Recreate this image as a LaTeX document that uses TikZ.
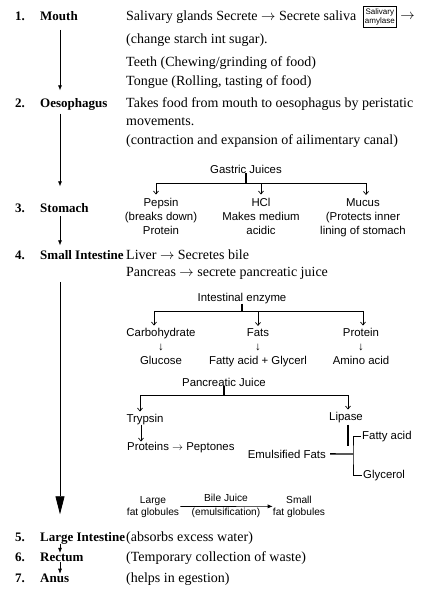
\documentclass[tikz,border=0pt]{standalone}
\usepackage{fontspec}
\setmainfont{Liberation Serif}
\setsansfont{Liberation Sans}
\usetikzlibrary{arrows.meta,positioning}
\tikzset{
  num/.style={anchor=base west, inner sep=0pt, font=\fontsize{13}{15}\selectfont\bfseries},
  txt/.style={anchor=base west, inner sep=0pt, font=\fontsize{14}{17}\selectfont},
  sf/.style={anchor=base, inner sep=0pt, align=center, font=\sffamily\fontsize{11.4}{14}\selectfont},
  sfsmall/.style={anchor=base, inner sep=0pt, align=center, font=\sffamily\fontsize{10.2}{12}\selectfont},
  enzbox/.style={draw, line width=0.8pt, inner sep=2pt, align=center, font=\sffamily\fontsize{8}{9.5}\selectfont},
  flow/.style={line width=0.6pt, -{Latex[length=5pt,width=4pt]}},
  bigflow/.style={line width=0.8pt, -{Triangle[length=18pt,width=9pt]}},
  branch/.style={line width=0.7pt, -{Straight Barb[length=3pt,width=5pt]}},
  stem/.style={line width=1.4pt},
}
\begin{document}
\begin{tikzpicture}[x=1pt,y=-1pt]
  \useasboundingbox (0,0) rectangle (439,590);
  % left column
  \node[num] (n1) at (15,20.5) {1.};
  \node[num] (mouth) at (40,20.5) {Mouth};
  \node[num] (n2) at (15,107.5) {2.};
  \node[num] (oes) at (40,107.5) {Oesophagus};
  \node[num] (n3) at (15,212.5) {3.};
  \node[num] (stom) at (40,212.5) {Stomach};
  \node[num] (n4) at (15,259.5) {4.};
  \node[num] (si) at (40,259.5) {Small Intestine};
  \node[num] (n5) at (15,541.5) {5.};
  \node[num] (li) at (40,541.5) {Large Intestine};
  \node[num] (n6) at (15,561.5) {6.};
  \node[num] (rect) at (40,561.5) {Rectum};
  \node[num] (n7) at (15,582.5) {7.};
  \node[num] (anus) at (40,582.5) {Anus};
  \coordinate (lane) at (60,0);
  \draw[flow, shorten <=9pt, shorten >=8pt] (lane |- mouth.south) -- (lane |- oes.north);
  \draw[flow, shorten <=3pt, shorten >=17pt] (lane |- oes.south) -- (lane |- stom.north);
  \draw[flow, shorten <=3pt, shorten >=5pt] (lane |- stom.south) -- (lane |- si.north);
  \draw[bigflow, shorten <=22pt, shorten >=18pt] (lane |- si.south) -- (lane |- li.north);
  \draw[flow, shorten <=-1pt] (lane |- li.south) -- (lane |- rect.north);
  \draw[flow] (lane |- rect.south) -- (lane |- anus.north);

  % mouth, oesophagus
  \node[txt] (sal) at (126,20.5) {Salivary glands Secrete $\rightarrow$ Secrete saliva};
  \node[enzbox, right=6pt of sal] (amy) {Salivary\\amylase};
  \node[txt, right=3pt of amy] (amyarr) {$\rightarrow$};
  \node[txt] (chg) at (126,43.5) {(change starch int sugar).};
  \node[txt] (teeth) at (126,66.5) {Teeth (Chewing/grinding of food)};
  \node[txt] (tongue) at (126,85.5) {Tongue (Rolling, tasting of food)};
  \node[txt] (takes) at (126,107.5) {Takes food from mouth to oesophagus by peristatic};
  \node[txt] (movs) at (126,125.5) {movements.};
  \node[txt] (contr) at (126,144.5) {(contraction and expansion of ailimentary canal)};

  % stomach
  \node[sf] (gj) at (246,173) {Gastric Juices};
  \node[sf] (pep) at (161,234) {Pepsin\\(breaks down)\\Protein};
  \node[sf] (hcl) at (261,234) {HCl\\Makes medium\\acidic};
  \node[sf] (muc) at (363,234) {Mucus\\(Protects inner\\lining of stomach};
  \draw[stem] (gj.south) -- (gj.south |- 0,183) coordinate (gjk);
  \draw[branch, shorten >=3pt] (gjk) -| ([xshift=-5pt]pep.north);
  \draw[branch, shorten >=3pt] (gjk) -| (hcl.north);
  \draw[branch, shorten >=3pt] (gjk) -| ([xshift=3pt]muc.north);

  % small intestine
  \node[txt] (liver) at (126,259.5) {Liver $\rightarrow$ Secretes bile};
  \node[txt] (panc) at (126,276.5) {Pancreas $\rightarrow$ secrete pancreatic juice};
  \node[sf] (ie) at (242,301) {Intestinal enzyme};
  \node[sf] (carb) at (161,364) {Carbohydrate\\↓\\Glucose};
  \node[sf] (fats) at (258,364) {Fats\\↓\\Fatty acid + Glycerl};
  \node[sf] (prot) at (361,364) {Protein\\↓\\Amino acid};
  \draw[stem] (ie.south) -- (ie.south |- 0,311) coordinate (iek);
  \draw[branch, shorten >=2pt] (iek) -| ([xshift=-7pt]carb.north);
  \draw[branch, shorten >=2pt] (iek) -| (fats.north);
  \draw[branch, shorten >=2pt] (iek) -| ([xshift=2pt]prot.north);

  \node[sf] (pj) at (224,386) {Pancreatic Juice};
  \node[sf] (tryp) at (145,422) {Trypsin};
  \node[sf] (lip) at (346,420) {Lipase};
  \draw[stem] (pj.south) -- (pj.south |- 0,395) coordinate (pjk);
  \draw[branch, shorten >=2pt] (pjk) -| ([xshift=-5pt]tryp.north);
  \draw[branch, shorten >=2pt] (pjk) -| ([xshift=2pt]lip.north);
  \node[sf, anchor=base west] (pept) at (127,450) {Proteins $\rightarrow$ Peptones};
  \draw[branch] ([xshift=-4pt]tryp.south) -- ([xshift=-4pt]tryp.south |- pept.north);

  % lipase on fats
  \node[sf, anchor=base east] (ef) at (326,458) {Emulsified Fats};
  \node[sf, anchor=base west] (fa) at (362,439) {Fatty acid};
  \node[sf, anchor=base west] (gl) at (363,478) {Glycerol};
  \coordinate (fork) at (353,454);
  \draw[stem] ([xshift=2pt,yshift=-2pt]lip.south) -- ++(0,21);
  \draw[stem] ([xshift=4pt]ef.east) -- (fork);
  \draw[line width=0.7pt] ([xshift=-1pt]fa.west) -| (fork) |- ([xshift=-1pt]gl.west);

  % bile
  \node[sfsmall] (lfg) at (153,515) {Large\\fat globules};
  \node[sfsmall] (sfg) at (299,515) {Small\\fat globules};
  \draw[flow, shorten <=1pt] (lfg) -- (sfg)
    node[sfsmall, midway, above=5pt] (bile) {Bile Juice}
    node[sfsmall, midway, below=1pt] (emul) {(emulsification)};

  % large intestine onwards
  \node[txt] (absorb) at (126,541.5) {(absorbs excess water)};
  \node[txt] (waste) at (126,561.5) {(Temporary collection of waste)};
  \node[txt] (egest) at (126,582.5) {(helps in egestion)};
\end{tikzpicture}
\end{document}
